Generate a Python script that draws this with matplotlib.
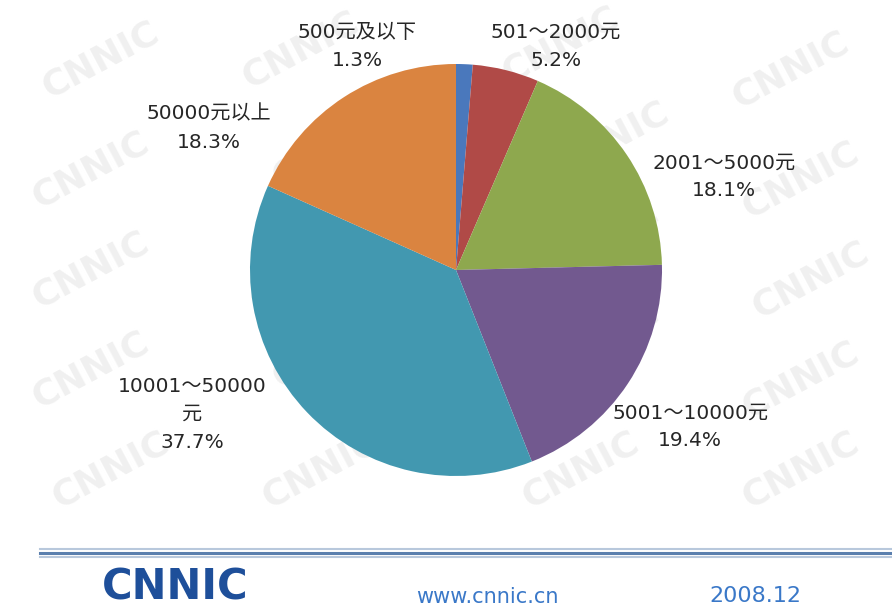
import matplotlib
matplotlib.use("Agg")
import matplotlib.pyplot as plt

plt.rcParams['font.family'] = ['DejaVu Sans', 'Noto Sans CJK SC']

categories = ["500元及以下", "501～2000元", "2001～5000元", "5001～10000元", "10001～50000\n元", "50000元以上"]
values = [1.3, 5.2, 18.1, 19.4, 37.7, 18.3]
colors = ["#4A78BC", "#B04A47", "#8EA84E", "#72598F", "#4298B0", "#DA8440"]
label_pos = [(357, 46), (556, 46), (724, 177), (690, 427), (192, 414), (209, 128)]

W, H = 892, 610
fig = plt.figure(figsize=(W / 100, H / 100), dpi=100)
ax = fig.add_axes([0, 0, 1, 1])

# faint watermark
wm_pos = [(100, 60), (300, 50), (560, 45), (790, 70),
          (90, 170), (330, 150), (610, 140), (800, 180),
          (90, 270), (320, 250), (600, 240), (810, 280),
          (90, 370), (330, 350), (600, 340), (800, 380),
          (110, 470), (320, 470), (580, 470), (800, 470)]
for (x, y) in wm_pos:
    ax.text(x, H - y, "CNNIC", fontsize=26, fontweight='bold', color='#f0f0f0',
            rotation=28, ha='center', va='center', family='DejaVu Sans', zorder=0)

ax.pie(values, colors=colors, startangle=90, counterclock=False,
       center=(456, H - 270), radius=206, frame=True,
       wedgeprops=dict(linewidth=0, zorder=2))

for cat, v, (x, y) in zip(categories, values, label_pos):
    ax.text(x, H - y, f"{cat}\n{v:.1f}%", ha='center', va='center',
            fontsize=14.5, color='#262626', linespacing=1.6, zorder=5)

# footer lines
ax.plot([40, W], [H - 549, H - 549], color='#b8c8dc', lw=1.5, zorder=3)
ax.plot([40, W], [H - 553, H - 553], color='#5a7fae', lw=2.2, zorder=3)
ax.plot([40, W], [H - 557, H - 557], color='#b8c8dc', lw=1.5, zorder=3)

ax.text(175, H - 588, "CNNIC", fontsize=30, fontweight='bold', color='#1e4f9a',
        ha='center', va='center', family='DejaVu Sans', zorder=5)
ax.text(487, H - 597, "www.cnnic.cn", fontsize=15, color='#3a78c8',
        ha='center', va='center', family='DejaVu Sans', zorder=5)
ax.text(755, H - 596, "2008.12", fontsize=16, color='#3a78c8',
        ha='center', va='center', family='DejaVu Sans', zorder=5)

ax.set_xlim(0, W)
ax.set_ylim(0, H)
ax.set_aspect('auto')
ax.axis('off')

fig.savefig("out.png", dpi=100)
